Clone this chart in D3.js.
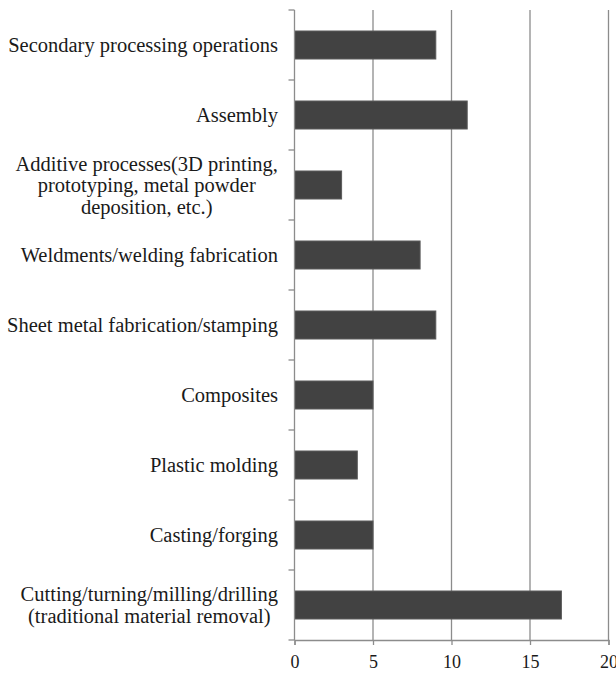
<!DOCTYPE html>
<html>
<head>
<meta charset="utf-8">
<script src="https://cdn.jsdelivr.net/npm/d3@7"></script>
<style>
  body { margin: 0; background: #fff; }
  #plot { font-family: "Liberation Serif", "Times New Roman", serif; }
</style>
</head>
<body>
<div id="plot"></div>
<script>
// data, top to bottom as drawn
var categories = [
    "Secondary processing operations",
    "Assembly",
    "Additive processes(3D printing,\nprototyping, metal powder\ndeposition, etc.)",
    "Weldments/welding fabrication",
    "Sheet metal fabrication/stamping",
    "Composites",
    "Plastic molding",
    "Casting/forging",
    "Cutting/turning/milling/drilling\n(traditional material removal)"
];
var values = [9, 11, 3, 8, 9, 5, 4, 5, 17];
var xTicks = [0, 5, 10, 15, 20];

var width = 616, height = 675;

var svg = d3.select("#plot").append("svg")
    .attr("width", width)
    .attr("height", height);

var x = d3.scaleLinear().domain([0, 20]).range([294.5, 608.5]);
var y = d3.scaleBand().domain(categories).range([10, 640])
    .paddingInner(0.6).paddingOuter(0.3);

var gridColor = "#8c8c8c";

// vertical gridlines
svg.append("g").selectAll("line")
    .data(xTicks.slice(1))
    .enter().append("line")
    .attr("x1", function(d) { return x(d); })
    .attr("x2", function(d) { return x(d); })
    .attr("y1", 10).attr("y2", 640)
    .style("stroke", gridColor)
    .style("stroke-width", 1.3);

// bars
svg.append("g").selectAll("rect")
    .data(values)
    .enter().append("rect")
    .attr("x", x(0))
    .attr("y", function(d, i) { return y(categories[i]); })
    .attr("width", function(d) { return x(d) - x(0); })
    .attr("height", y.bandwidth())
    .style("fill", "#424242")
    .style("stroke", "#5a5a5a")
    .style("stroke-width", 1);

// x axis
var xAxis = d3.axisBottom(x).tickValues(xTicks).tickSize(5).tickPadding(10);
var gx = svg.append("g")
    .attr("transform", "translate(0,640)")
    .call(xAxis);
gx.select(".domain").style("stroke", gridColor).style("stroke-width", 1.3);
gx.selectAll(".tick line").style("stroke", gridColor).style("stroke-width", 1.3);
gx.selectAll(".tick text")
    .style("font-family", "Liberation Serif, serif")
    .style("font-size", "18px")
    .style("fill", "#1a1a1a");

// y axis line + category boundary ticks
var gap = (y.step() - y.bandwidth()) / 2;
var bounds = categories.map(function(c) { return y(c) - gap; });
bounds.push(y(categories[categories.length - 1]) + y.bandwidth() + gap);
var gy = svg.append("g");
gy.append("line")
    .attr("x1", x(0)).attr("x2", x(0))
    .attr("y1", bounds[0]).attr("y2", bounds[bounds.length - 1])
    .style("stroke", gridColor).style("stroke-width", 1.3);
gy.selectAll(".cat-tick")
    .data(bounds)
    .enter().append("line")
    .attr("class", "cat-tick")
    .attr("x1", x(0) - 6).attr("x2", x(0))
    .attr("y1", function(d) { return d; })
    .attr("y2", function(d) { return d; })
    .style("stroke", gridColor).style("stroke-width", 1.3);

// category labels: block right-aligned, each line centred in block
var labelRight = 278, lineH = 21.5;
categories.forEach(function(c) {
    var lines = c.split("\n");
    var g = svg.append("g");
    var t = g.append("text")
        .style("font-size", "20.5px")
        .style("fill", "#1a1a1a");
    var cy = y(c) + y.bandwidth() / 2;
    var top = cy - (lines.length - 1) * lineH / 2;
    var spans = lines.map(function(l, i) {
        return t.append("tspan")
            .attr("y", top + i * lineH)
            .attr("dy", "0.35em")
            .attr("text-anchor", "middle")
            .text(l);
    });
    var w = d3.max(spans, function(s) { return s.node().getComputedTextLength(); });
    spans.forEach(function(s) { s.attr("x", labelRight - w / 2); });
});
</script>
</body>
</html>
